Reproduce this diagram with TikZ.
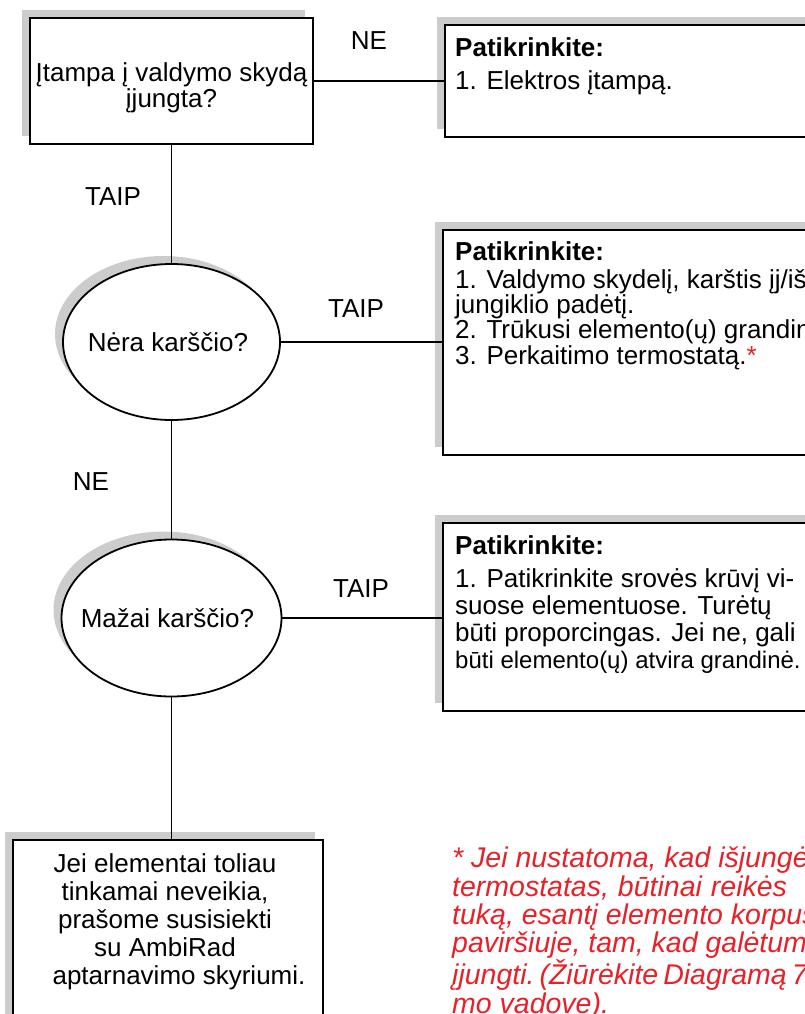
\documentclass[tikz,border=0pt]{standalone}
\usepackage{fontspec}
\setmainfont{Liberation Sans}
\usetikzlibrary{shapes.geometric,shadows}
\definecolor{noteRed}{RGB}{232,32,40}
\definecolor{shadeGray}{RGB}{204,204,204}
\newcommand\chartfont{\fontsize{26}{27}\selectfont}
\newcommand\notefont{\fontsize{28.5}{28.3}\selectfont\itshape}

\tikzset{
  boxed/.style={draw,line width=1.8pt,fill=white,inner sep=0pt,
    drop shadow={shadow xshift=-8pt,shadow yshift=8pt,fill=shadeGray,opacity=1}},
  wire/.style={line width=1.4pt},
  txt/.style={anchor=base west,inner sep=0pt,align=left,font=\chartfont},
}

\begin{document}
\begin{tikzpicture}[x=1pt,y=-1pt]
  \useasboundingbox (0,0) rectangle (805,1014);
  \clip (0,0) rectangle (805,1014);
  % questions
  \node[boxed,minimum width=283pt,minimum height=126pt] (q1) at (171.5,81) {};
  \node[boxed,ellipse,minimum width=217pt,minimum height=156pt] (q2) at (171.5,342) {};
  \node[boxed,ellipse,minimum width=220pt,minimum height=157pt] (q3) at (171.5,618) {};
  \node[boxed,minimum width=310pt,minimum height=220pt] (fin) at (168,950) {};
  % answers (cut off by the right edge)
  \node[boxed,minimum width=390pt,minimum height=112pt] (a1) at (640,81) {};
  \node[boxed,minimum width=390pt,minimum height=225pt] (a2) at (638,342.5) {};
  \node[boxed,minimum width=390pt,minimum height=188pt] (a3) at (638,617) {};
  % connectors
  \draw[wire] (q1.south) -- (q2.north);
  \draw[wire] (q2.south) -- (q3.north);
  \draw[wire] (q3.south) -- (q3.south |- fin.north);
  \draw[wire] (q1.east) -- (q1.east -| a1.west);
  \draw[wire] (q2.east) -- (q2.east -| a2.west);
  \draw[wire] (q3.east) -- (q3.east -| a3.west);
  % yes / no
  \node[font=\chartfont] (no1) at (369,41) {NE};
  \node[font=\chartfont] (yes1) at (113,197) {TAIP};
  \node[font=\chartfont] (yes2) at (356,309) {TAIP};
  \node[font=\chartfont] (no2) at (91,482) {NE};
  \node[font=\chartfont] (yes3) at (361,589) {TAIP};
  % texts (base = last line)
  \node[anchor=base,align=center,inner sep=0pt,font=\fontsize{26}{26}\selectfont] (q1t) at (171.5,108)
    {Įtampa į valdymo skydą\\įjungta?};
  \node[anchor=base,inner sep=0pt,font=\chartfont] (q2t) at (168,351) {Nėra karščio?};
  \node[anchor=base,inner sep=0pt,font=\chartfont] (q3t) at (167.5,627) {Mažai karščio?};
  \node[txt] (a1t) at (455,90) {\textbf{Patikrinkite:}\\[6pt]1. Elektros įtampą.};
  \node[txt,font=\fontsize{26}{23}\selectfont] (a2t) at (455,364) {\textbf{Patikrinkite:}\\[5pt]1. Valdymo skydelį, karštis įj/išj\\
    jungiklio padėtį.\\2. Trūkusi elemento(ų) grandinė\\3. Perkaitimo termostatą.\textcolor{noteRed}{*}};
  \node[txt] (a3t) at (455,668) {\textbf{Patikrinkite:}\\[6pt]1. Patikrinkite srovės krūvį vi-\\
    suose elementuose. Turėtų\\būti proporcingas. Jei ne, gali\\
    {\fontsize{24}{27}\selectfont būti elemento(ų) atvira grandinė.}};
  \node[anchor=base,align=center,inner sep=0pt,font=\fontsize{26}{28}\selectfont] (fint) at (165,984)
    {Jei elementai toliau\\tinkamai neveikia,\\prašome susisiekti\hspace*{30pt}\\su AmbiRad\\
    \hspace*{28pt}aptarnavimo skyriumi.};
  \node[txt,text=noteRed,font=\notefont] (note) at (452,1013)
    {* Jei nustatoma, kad išjungė\\termostatas,\hspace{9pt}būtinai\hspace{9pt}reikės\\tuką, esantį elemento korpuso\\
    paviršiuje, tam, kad galėtumėte\\įjungti.\hspace{5pt}(Žiūrėkite\hspace{5pt}Diagramą\hspace{5pt}7,\\mo vadove).};
\end{tikzpicture}
\end{document}
